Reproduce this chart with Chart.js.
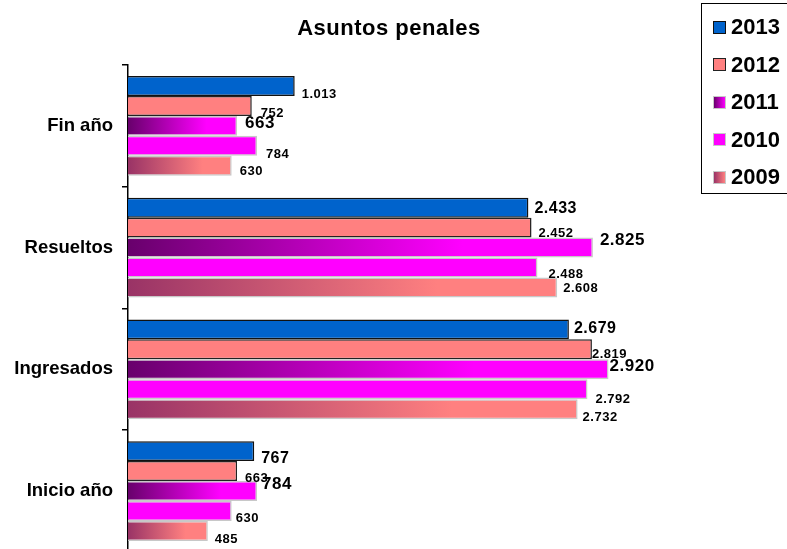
<!DOCTYPE html>
<html>
<head>
<meta charset="utf-8">
<script src="https://cdn.jsdelivr.net/npm/chart.js@4/dist/chart.umd.min.js"></script>
<style>
    html, body { margin: 0; padding: 0; background: #fff; overflow: hidden; }
    #wrap { position: relative; width: 787px; height: 549px; overflow: hidden; }
    #legend {
        position: absolute; left: 701px; top: 3px; width: 88px; height: 191px;
        border: 1.5px solid #000; box-sizing: border-box;
        font-family: "Liberation Sans", Arial, sans-serif; font-weight: bold; font-size: 22px;
    }
    .box { position: absolute; left: 11px; width: 13px; height: 13px; box-sizing: border-box; }
    .txt { position: absolute; left: 29px; height: 22px; line-height: 22px; }
</style>
</head>
<body>
<div id="wrap">
    <canvas id="chart" width="787" height="572"></canvas>
    <div id="legend"></div>
</div>
<script>
// Datos del gráfico
const categories = ['Fin año', 'Resueltos', 'Ingresados', 'Inicio año'];
const years = ['2013', '2012', '2011', '2010', '2009'];
const values2013 = [1013, 2433, 2679, 767];
const values2012 = [752, 2452, 2819, 663];
const values2011 = [663, 2825, 2920, 784];
const values2010 = [784, 2488, 2792, 630];
const values2009 = [630, 2608, 2732, 485];
const chartTitle = 'Asuntos penales';

// Tamaño de las etiquetas de valor (como en el original)
const labelSize = [
    [13, 16, 16, 16],
    [13, 13, 13, 13],
    [17, 17, 17, 17],
    [13, 13, 13, 13],
    [13, 13, 13, 13]
];
// Desplazamiento de cada etiqueta respecto al final de la barra
const labelDx = [
    [7, 6, 5, 7],
    [9, 7, 0, 8],
    [8, 7, 1, 5],
    [9, 11, 8, 4],
    [8, 6, 5, 7]
];
const labelDy = [
    [8, 1, -1, 7],
    [8, 6, 5, 7],
    [-3, -7, -3, -7],
    [9, 7, 10, 7],
    [6, 1, 8, 8]
];

const FONT = '"Liberation Sans", Arial, sans-serif';

// Formato con punto de miles
function fmt(v) {
    return String(v).replace(/\B(?=(\d{3})+(?!\d))/g, '.');
}

// Degradado horizontal para cada barra
function gradientFill(from, to, fallback) {
    return (ctx) => {
        const chart = ctx.chart;
        if (!chart.chartArea || ctx.type !== 'data') return fallback;
        const x = chart.scales.x;
        const x0 = x.getPixelForValue(0);
        const x1 = x.getPixelForValue(ctx.raw);
        const g = chart.ctx.createLinearGradient(x0, 0, Math.max(x1, x0 + 1), 0);
        g.addColorStop(0, from);
        g.addColorStop(0.72, to);
        g.addColorStop(1, to);
        return g;
    };
}

const series = [
    { label: years[0], data: values2013, backgroundColor: '#0063CC', borderColor: '#111', legend: '#0063CC', legendBorder: '#111' },
    { label: years[1], data: values2012, backgroundColor: '#FF8080', borderColor: '#222', legend: '#FF8080', legendBorder: '#222' },
    { label: years[2], data: values2011, backgroundColor: gradientFill('#68006C', '#FF00FF', '#A000B0'), borderColor: '#C8C8C8', legend: 'linear-gradient(90deg,#68006C,#FF00FF)', legendBorder: '#C8C8C8' },
    { label: years[3], data: values2010, backgroundColor: '#FF00FF', borderColor: '#C8C8C8', legend: '#FF00FF', legendBorder: '#C8C8C8' },
    { label: years[4], data: values2009, backgroundColor: gradientFill('#993366', '#FF8080', '#CC5C73'), borderColor: '#C8C8C8', legend: 'linear-gradient(90deg,#993366,#FF8080)', legendBorder: '#C8C8C8' }
];

// Plugin para los valores junto a las barras
const valueLabels = {
    id: 'valueLabels',
    afterDatasetsDraw(chart) {
        const ctx = chart.ctx;
        ctx.save();
        ctx.fillStyle = '#000';
        ctx.textBaseline = 'middle';
        ctx.textAlign = 'left';
        chart.data.datasets.forEach((ds, i) => {
            const meta = chart.getDatasetMeta(i);
            meta.data.forEach((bar, j) => {
                ctx.font = 'bold ' + labelSize[i][j] + 'px ' + FONT;
                ctx.letterSpacing = '0.5px';
                ctx.fillText(fmt(ds.data[j]), bar.x + labelDx[i][j], bar.y + labelDy[i][j]);
            });
        });
        ctx.restore();
    }
};

// Título centrado
const titlePlugin = {
    id: 'titlePlugin',
    afterDraw(chart) {
        const ctx = chart.ctx;
        ctx.save();
        ctx.font = 'bold 22px ' + FONT;
        ctx.letterSpacing = '0.5px';
        ctx.fillStyle = '#000';
        ctx.textAlign = 'center';
        ctx.textBaseline = 'alphabetic';
        ctx.fillText(chartTitle, 389, 35);
        ctx.restore();
    }
};

new Chart(document.getElementById('chart'), {
    type: 'bar',
    data: {
        labels: categories,
        datasets: series.map(s => ({
            label: s.label,
            data: s.data,
            backgroundColor: s.backgroundColor,
            borderColor: s.borderColor,
            borderWidth: 1.5,
            borderSkipped: 'start',
            categoryPercentage: 0.82,
            barPercentage: 1.0
        }))
    },
    options: {
        indexAxis: 'y',
        responsive: false,
        animation: false,
        layout: { padding: { top: 65, right: 83, bottom: 5, left: 0 } },
        plugins: {
            legend: { display: false },
            title: { display: false },
            tooltip: { enabled: false }
        },
        scales: {
            x: { display: false, min: 0, max: 3500 },
            y: {
                afterFit: (scale) => { scale.width = 128; },
                grid: { display: true, drawOnChartArea: false, drawTicks: true, tickLength: 6, color: '#000', lineWidth: 1.5 },
                border: { display: true, color: '#000', width: 1.5 },
                ticks: { color: '#000', padding: 9, font: { family: FONT, size: 18.5, weight: 'bold' } }
            }
        }
    },
    plugins: [valueLabels, titlePlugin]
});

// Leyenda en HTML
const legend = document.getElementById('legend');
series.forEach((s, i) => {
    const box = document.createElement('div');
    box.className = 'box';
    box.style.top = (16.5 + i * 37.5) + 'px';
    box.style.background = s.legend;
    box.style.border = '1.5px solid ' + s.legendBorder;
    legend.appendChild(box);
    const txt = document.createElement('div');
    txt.className = 'txt';
    txt.style.top = (12 + i * 37.5) + 'px';
    txt.textContent = s.label;
    legend.appendChild(txt);
});
</script>
</body>
</html>
